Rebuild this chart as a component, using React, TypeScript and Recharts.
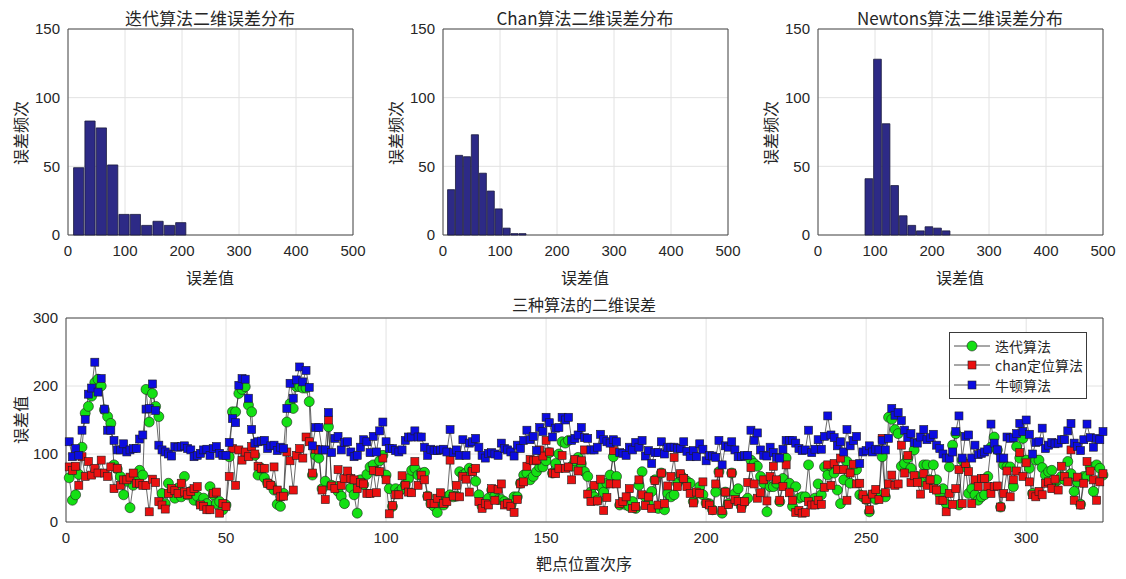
import React from 'react';
import {
  BarChart,
  Bar,
  LineChart,
  Line,
  XAxis,
  YAxis,
  CartesianGrid,
  ReferenceArea,
  Legend,
} from 'recharts';

// histogram bins
const histTicksX = [0, 100, 200, 300, 400, 500];
const histTicksY = [0, 50, 100, 150];

const iterBinStart = 8;
const iterBinWidth = 19.9;
const iterCounts = [49, 83, 78, 51, 15, 15, 7, 10, 7, 9];

const chanBinStart = 8;
const chanBinWidth = 13.9;
const chanCounts = [33, 58, 57, 73, 45, 32, 19, 5, 1, 1];

const newtonBinStart = 82.5;
const newtonBinWidth = 15.05;
const newtonCounts = [41, 128, 81, 36, 14, 7, 3, 6, 5, 3];

// per-target errors, 324 points each
const lineTicksX = [0, 50, 100, 150, 200, 250, 300];
const lineTicksY = [0, 100, 200, 300];

const iterErr = [
  65, 32, 40, 70, 110, 160, 170, 185, 205, 210,
  200, 165, 155, 145, 84, 78, 67, 40, 60, 21,
  54, 60, 76, 69, 195, 147, 189, 170, 155, 42,
  27, 57, 45, 35, 50, 37, 67, 40, 45, 32,
  38, 27, 35, 27, 52, 40, 27, 30, 18, 25,
  96, 162, 162, 189, 195, 199, 172, 162, 98, 69,
  79, 65, 57, 54, 47, 26, 23, 42, 147, 174,
  167, 199, 199, 197, 197, 177, 69, 98, 94, 49,
  60, 140, 54, 52, 45, 38, 27, 67, 50, 40,
  13, 62, 55, 70, 81, 84, 75, 90, 98, 69,
  49, 23, 49, 44, 49, 55, 64, 76, 79, 69,
  72, 73, 38, 27, 23, 14, 32, 25, 37, 40,
  37, 38, 74, 69, 72, 79, 76, 60, 40, 23,
  27, 35, 47, 38, 33, 33, 30, 27, 25, 37,
  37, 57, 69, 72, 62, 67, 74, 81, 81, 90,
  102, 72, 86, 100, 118, 116, 120, 82, 90, 95,
  86, 74, 67, 44, 37, 32, 52, 44, 57, 69,
  96, 67, 25, 27, 25, 23, 30, 20, 54, 74,
  37, 27, 45, 62, 20, 72, 18, 42, 37, 40,
  57, 69, 64, 60, 57, 30, 42, 52, 40, 28,
  27, 18, 44, 74, 13, 44, 27, 72, 42, 49,
  23, 30, 35, 91, 86, 82, 67, 57, 15, 52,
  52, 57, 30, 64, 94, 57, 23, 52, 35, 37,
  37, 84, 30, 35, 56, 40, 81, 69, 82, 72,
  47, 27, 62, 89, 57, 77, 77, 40, 37, 33,
  15, 40, 33, 40, 96, 37, 154, 151, 136, 130,
  82, 86, 94, 79, 106, 67, 59, 84, 84, 62,
  84, 62, 42, 49, 27, 81, 113, 130, 25, 91,
  81, 42, 49, 40, 32, 37, 40, 67, 110, 125,
  106, 22, 84, 81, 81, 52, 111, 94, 123, 91,
  79, 42, 91, 91, 80, 69, 74, 76, 59, 62,
  67, 62, 89, 71, 45, 59, 26, 67, 67, 81,
  45, 84, 79, 69,
];

const chanErr = [
  81, 76, 82, 54, 96, 67, 89, 69, 79, 72,
  91, 72, 67, 81, 49, 79, 54, 62, 62, 66,
  72, 57, 57, 54, 54, 15, 63, 58, 30, 25,
  19, 42, 49, 46, 42, 57, 44, 40, 45, 49,
  52, 25, 23, 18, 18, 42, 44, 13, 27, 23,
  67, 108, 54, 106, 91, 103, 96, 111, 100, 82,
  79, 79, 57, 54, 81, 47, 37, 38, 103, 90,
  47, 98, 108, 94, 125, 118, 72, 107, 106, 47,
  33, 150, 53, 49, 77, 54, 64, 75, 64, 62,
  49, 58, 56, 42, 42, 76, 43, 74, 94, 62,
  12, 24, 40, 40, 68, 54, 44, 43, 89, 54,
  69, 62, 38, 27, 27, 35, 43, 27, 30, 91,
  38, 54, 37, 67, 63, 44, 74, 79, 30, 20,
  27, 25, 49, 32, 48, 56, 25, 27, 23, 14,
  33, 56, 59, 82, 92, 90, 91, 106, 97, 120,
  103, 72, 71, 79, 98, 79, 81, 62, 92, 75,
  90, 106, 41, 30, 54, 31, 63, 17, 36, 56,
  105, 56, 27, 30, 37, 49, 20, 23, 62, 40,
  24, 37, 20, 61, 25, 72, 27, 53, 67, 95,
  52, 71, 64, 52, 42, 28, 44, 42, 59, 27,
  25, 17, 56, 72, 17, 44, 26, 72, 33, 30,
  20, 30, 58, 80, 56, 35, 43, 62, 31, 67,
  82, 62, 32, 52, 84, 43, 32, 14, 17, 13,
  14, 30, 25, 25, 32, 26, 51, 84, 54, 86,
  77, 94, 77, 32, 72, 85, 56, 57, 40, 33,
  18, 41, 48, 33, 123, 43, 56, 69, 54, 56,
  113, 72, 98, 58, 68, 58, 41, 71, 54, 62,
  49, 47, 32, 32, 15, 42, 26, 49, 77, 27,
  86, 74, 27, 62, 52, 64, 64, 52, 42, 52,
  53, 22, 42, 75, 37, 62, 75, 102, 67, 87,
  59, 40, 37, 45, 40, 57, 59, 49, 63, 47,
  82, 67, 59, 106, 32, 66, 25, 57, 89, 75,
  62, 32, 59, 71,
];

const newtonErr = [
  118, 96, 108, 98, 135, 151, 188, 197, 235, 191,
  211, 166, 135, 135, 120, 106, 106, 115, 103, 106,
  108, 108, 122, 128, 166, 167, 203, 164, 113, 106,
  103, 100, 97, 111, 110, 111, 112, 108, 106, 96,
  98, 101, 106, 107, 98, 108, 111, 101, 98, 98,
  117, 152, 146, 201, 211, 210, 182, 136, 116, 118,
  119, 120, 108, 112, 113, 105, 110, 108, 167, 204,
  182, 209, 228, 206, 223, 198, 112, 139, 139, 106,
  106, 161, 102, 123, 126, 106, 117, 118, 103, 96,
  98, 110, 121, 118, 102, 126, 103, 134, 147, 118,
  108, 108, 105, 103, 106, 120, 125, 125, 134, 125,
  125, 110, 98, 107, 105, 105, 106, 107, 103, 136,
  102, 106, 98, 121, 98, 116, 118, 123, 110, 98,
  94, 101, 102, 100, 98, 116, 108, 106, 103, 97,
  113, 108, 120, 135, 121, 126, 105, 139, 133, 154,
  146, 125, 138, 139, 154, 150, 154, 120, 123, 128,
  139, 124, 123, 106, 106, 110, 129, 121, 118, 116,
  121, 118, 102, 101, 98, 110, 106, 117, 110, 120,
  97, 105, 86, 102, 102, 118, 100, 110, 110, 110,
  108, 108, 118, 104, 96, 105, 96, 115, 107, 90,
  98, 97, 95, 120, 84, 112, 110, 118, 106, 96,
  96, 98, 98, 135, 120, 131, 106, 98, 97, 110,
  102, 95, 94, 107, 120, 120, 120, 116, 108, 105,
  106, 135, 102, 107, 121, 107, 126, 156, 128, 124,
  112, 118, 103, 136, 112, 120, 126, 86, 103, 105,
  112, 103, 107, 106, 120, 106, 123, 167, 157, 161,
  149, 135, 124, 130, 117, 116, 125, 136, 121, 124,
  129, 113, 108, 100, 94, 94, 103, 133, 156, 94,
  126, 128, 94, 113, 99, 101, 103, 107, 144, 116,
  106, 94, 94, 125, 123, 124, 130, 145, 133, 150,
  129, 100, 117, 118, 138, 108, 113, 117, 115, 116,
  121, 121, 134, 145, 116, 111, 105, 121, 144, 124,
  110, 123, 121, 133,
];

const GREEN = '#14e014';
const RED = '#ea1010';
const BLUE = '#0c0ce0';
const INK = '#262626';
const GRID = '#e2e2e2';
const BOX = '#4a4a4a';
const CJK = "'Noto Sans CJK SC', 'Noto Sans', sans-serif";
const NUM = "'Liberation Sans', Arial, sans-serif";

const tickStyle = { fill: INK, fontSize: 15, fontFamily: NUM };

const labelBase: React.CSSProperties = {
  position: 'absolute',
  transform: 'translate(-50%, -50%)',
  whiteSpace: 'nowrap',
  fontFamily: CJK,
  fontSize: 16,
  color: INK,
  lineHeight: 1,
};

function Text({ x, y, rotate, size, children }: { x: number; y: number; rotate?: boolean; size?: number; children: React.ReactNode }) {
  return (
    <div
      style={{
        ...labelBase,
        left: x,
        top: y,
        fontSize: size ?? 16,
        transform: rotate ? 'translate(-50%, -50%) rotate(-90deg)' : labelBase.transform,
      }}
    >
      {children}
    </div>
  );
}

const HIST_W = 370;
const HIST_H = 290;
const HIST_PLOT_W = 285;

function Histogram({ left, title, counts, start, binWidth }: { left: number; title: string; counts: number[]; start: number; binWidth: number }) {
  const bins = counts.map((c, i) => ({ x: start + binWidth * (i + 0.5), count: c }));
  return (
    <div style={{ position: 'absolute', left, top: 0, width: HIST_W, height: HIST_H }}>
      <BarChart width={HIST_W} height={HIST_H} data={bins} margin={{ top: 29, right: 17, left: 23, bottom: 0 }}>
        <CartesianGrid stroke={GRID} />
        <XAxis
          dataKey="x"
          type="number"
          domain={[0, 500]}
          ticks={histTicksX}
          height={55}
          tickLine={false}
          axisLine={false}
          tick={tickStyle}
          tickMargin={4}
        />
        <YAxis type="number" domain={[0, 150]} ticks={histTicksY} width={45} tickLine={false} axisLine={false} tick={tickStyle} />
        <Bar
          dataKey="count"
          fill="#2d2a86"
          stroke="#1a1a3e"
          strokeWidth={0.8}
          barSize={(binWidth / 500) * HIST_PLOT_W}
          isAnimationActive={false}
        />
        <ReferenceArea x1={0} x2={500} y1={0} y2={150} fill="none" stroke={BOX} strokeWidth={1} ifOverflow="visible" />
      </BarChart>
      <Text x={210} y={17} size={17}>{title}</Text>
      <Text x={210} y={277}>误差值</Text>
      <Text x={20} y={133} rotate>误差频次</Text>
    </div>
  );
}

const series = [
  { key: 'iter', name: '迭代算法', color: GREEN, shape: 'circle' },
  { key: 'chan', name: 'chan定位算法', color: RED, shape: 'square' },
  { key: 'newton', name: '牛顿算法', color: BLUE, shape: 'square' },
];

function Marker({ cx, cy, color, shape }: { cx: number; cy: number; color: string; shape: string }) {
  if (shape === 'circle') {
    return <circle cx={cx} cy={cy} r={5} fill={color} stroke="#1e1e1e" strokeWidth={0.6} />;
  }
  return <rect x={cx - 4} y={cy - 4} width={8} height={8} fill={color} stroke="#1e1e1e" strokeWidth={0.6} />;
}

const makeDot = (color: string, shape: string) => (props: any) => {
  const { cx, cy, index } = props;
  if (cx == null || cy == null) return <g key={`e${index}`} />;
  return (
    <g key={`${shape}${color}${index}`}>
      <Marker cx={cx} cy={cy} color={color} shape={shape} />
    </g>
  );
};

function LegendBox() {
  return (
    <div
      style={{
        width: 136,
        background: '#fff',
        border: '1px solid #3a3a3a',
        padding: '3px 0 3px 0',
        fontFamily: CJK,
        fontSize: 14,
        color: INK,
      }}
    >
      {series.map((s) => (
        <div key={s.key} style={{ display: 'flex', alignItems: 'center', height: 19.5 }}>
          <svg width={40} height={14} style={{ marginLeft: 3, flex: 'none' }}>
            <line x1={1} x2={37} y1={7} y2={7} stroke="#222" strokeWidth={0.8} />
            <Marker cx={19} cy={7} color={s.color} shape={s.shape} />
          </svg>
          <span style={{ marginLeft: 2, lineHeight: 1 }}>{s.name}</span>
        </div>
      ))}
    </div>
  );
}

const lineData = newtonErr.map((v, i) => ({
  idx: i + 1,
  iter: iterErr[i],
  chan: chanErr[i],
  newton: v,
}));

function ErrorLines() {
  return (
    <div style={{ position: 'absolute', left: 0, top: 300, width: 1126, height: 279 }}>
      <LineChart width={1126} height={279} data={lineData} margin={{ top: 18, right: 23, left: 21, bottom: 0 }}>
        <CartesianGrid stroke={GRID} />
        <XAxis
          dataKey="idx"
          type="number"
          domain={[0, 324]}
          ticks={lineTicksX}
          height={57}
          tickLine={false}
          axisLine={false}
          tick={tickStyle}
          tickMargin={4}
        />
        <YAxis type="number" domain={[0, 300]} ticks={lineTicksY} width={45} tickLine={false} axisLine={false} tick={tickStyle} />
        <ReferenceArea x1={0} x2={324} y1={0} y2={300} fill="none" stroke={BOX} strokeWidth={1} ifOverflow="visible" />
        {series.map((s) => (
          <Line
            key={s.key}
            dataKey={s.key}
            name={s.name}
            stroke="#2a2a2a"
            strokeWidth={0.7}
            dot={makeDot(s.color, s.shape)}
            activeDot={false}
            isAnimationActive={false}
          />
        ))}
        <Legend
          layout="vertical"
          align="center"
          verticalAlign="middle"
          content={() => <LegendBox />}
          wrapperStyle={{ left: 949, top: 32, width: 138, height: 60 }}
        />
      </LineChart>
      <Text x={584} y={4} size={16}>三种算法的二维误差</Text>
      <Text x={584} y={263}>靶点位置次序</Text>
      <Text x={20} y={120} rotate>误差值</Text>
    </div>
  );
}

export default function App() {
  return (
    <div
      style={{
        position: 'absolute',
        left: 0,
        top: 0,
        width: 1126,
        height: 579,
        background: '#fff',
        overflow: 'hidden',
      }}
    >
      <Histogram left={0} title="迭代算法二维误差分布" counts={iterCounts} start={iterBinStart} binWidth={iterBinWidth} />
      <Histogram left={375} title="Chan算法二维误差分布" counts={chanCounts} start={chanBinStart} binWidth={chanBinWidth} />
      <Histogram left={750} title="Newtons算法二维误差分布" counts={newtonCounts} start={newtonBinStart} binWidth={newtonBinWidth} />
      <ErrorLines />
    </div>
  );
}
